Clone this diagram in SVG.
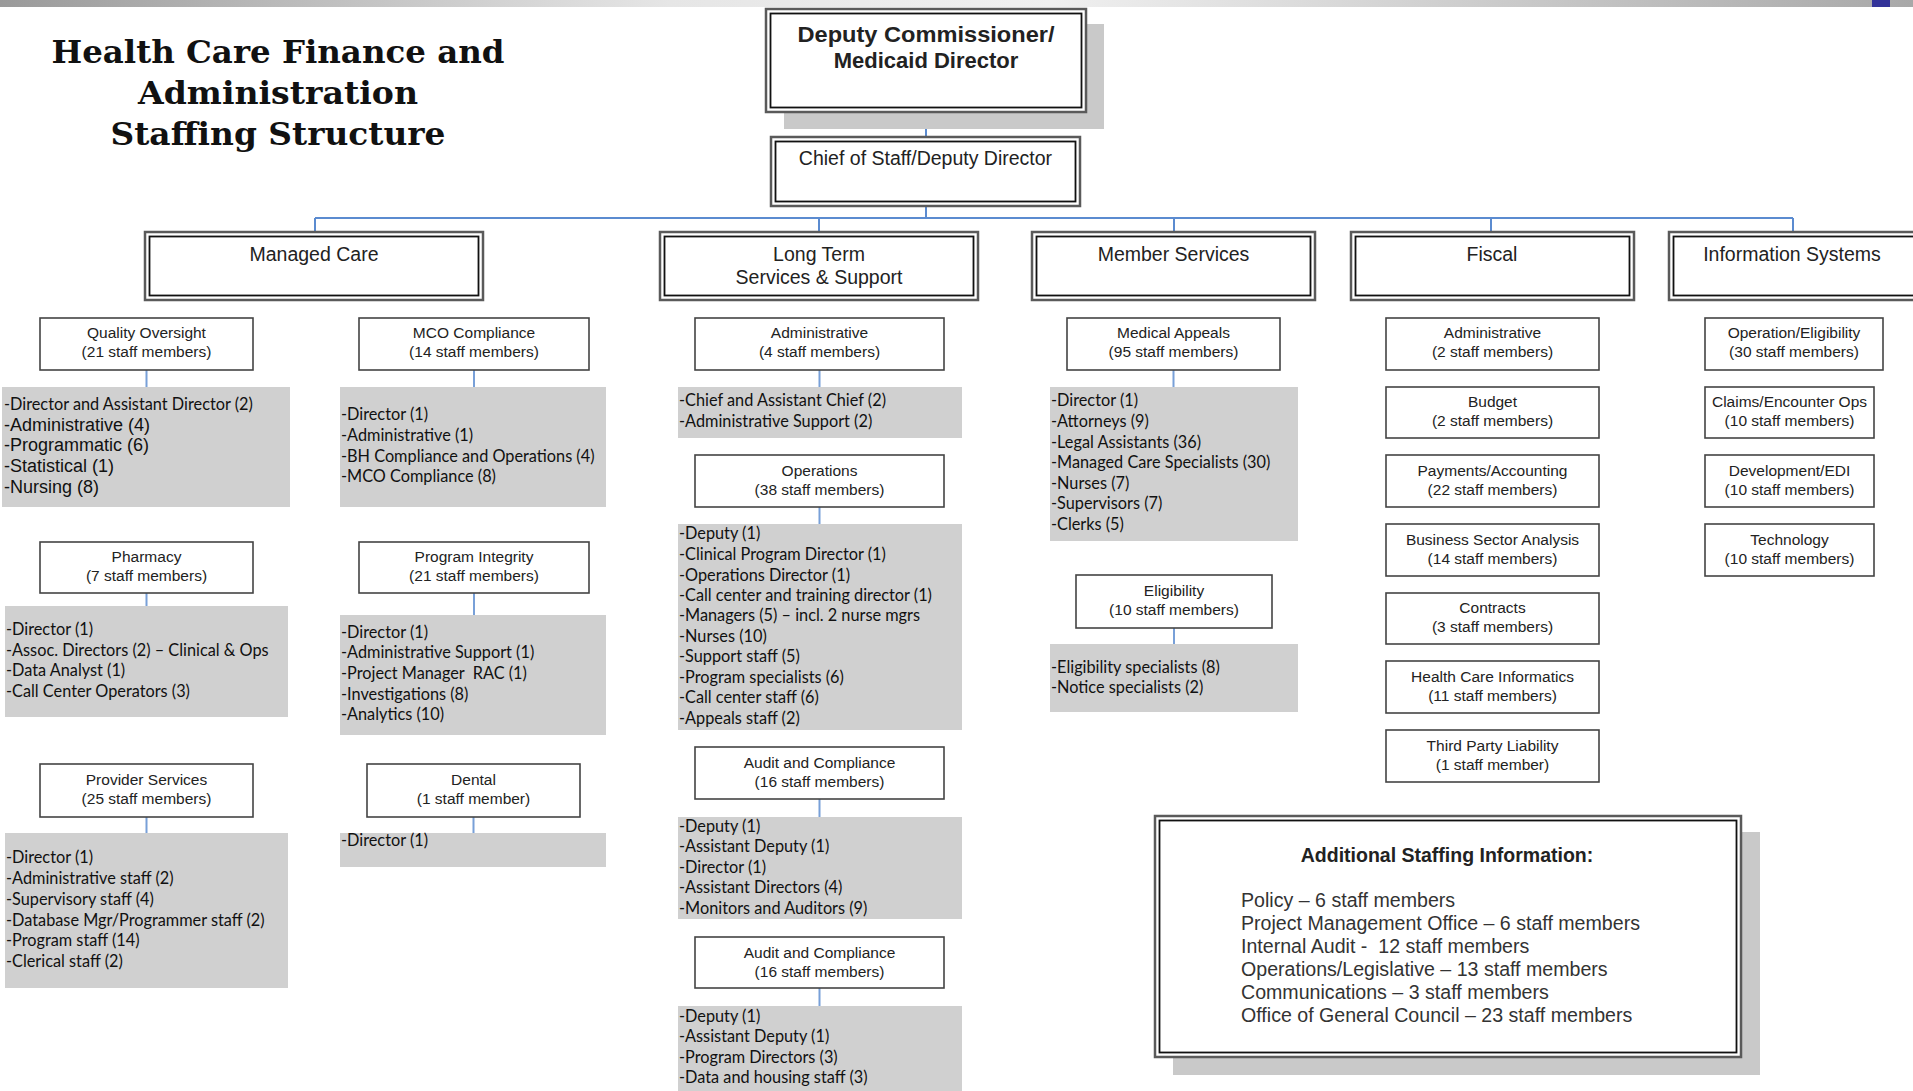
<svg xmlns="http://www.w3.org/2000/svg" width="1913" height="1091" viewBox="0 0 1913 1091">
<defs>
<linearGradient id="bar" x1="0" y1="0" x2="1" y2="0">
<stop offset="0" stop-color="#9a9a9a"/>
<stop offset="0.35" stop-color="#e6e6e6"/>
<stop offset="0.55" stop-color="#f0f0f0"/>
<stop offset="1" stop-color="#a8a8a8"/>
</linearGradient>
<style>
.l2o{fill:#fff;stroke:#5a5a5a;stroke-width:2.5}
.l2i{fill:none;stroke:#111;stroke-width:1.8}
.box{fill:#fff;stroke:#444;stroke-width:1.6}
.gray{fill:#d0d0d0}
.shadow{fill:#c9c9c9}
.conn{stroke:#78a0d8;stroke-width:2;fill:none}
.connm{stroke:#5b8bd0;stroke-width:2;fill:none}
.t{font-family:"Liberation Sans",Arial,sans-serif;fill:#222;text-anchor:middle}
.h2{font-size:19.5px}
.sub{font-size:15.5px}
.lst{font-family:Lato,"Liberation Sans",sans-serif;font-size:16.3px;fill:#111}
.lsta{font-family:"Liberation Sans",Arial,sans-serif;font-size:18px;fill:#111}
.add{font-family:"Liberation Sans",Arial,sans-serif;font-size:19.6px;fill:#333}
.title{font-family:"DejaVu Serif","Liberation Serif",serif;font-weight:bold;font-size:31px;fill:#111;text-anchor:middle}
</style>
</defs>
<rect width="1913" height="1091" fill="#fff"/>
<rect x="0" y="0" width="1913" height="7" fill="url(#bar)"/>
<rect x="1872" y="0" width="18" height="7" fill="#333399"/>

<g id="title">
<text class="title" x="278" y="63" textLength="453" lengthAdjust="spacingAndGlyphs">Health Care Finance and</text>
<text class="title" x="278" y="104" textLength="280" lengthAdjust="spacingAndGlyphs">Administration</text>
<text class="title" x="278" y="145" textLength="335" lengthAdjust="spacingAndGlyphs">Staffing Structure</text>
</g>

<g id="connectors">
<path class="connm" d="M926 112V137M926 206V218M315 218H1793M315 218V232M819 218V232M1174 218V232M1491 218V232M1793 218V232"/>
<path class="connm" d="M926 206V218" stroke-width="3"/>
<path class="conn" d="M146.5 370V387M474 370V387M146.5 593V606M474 593V615M146.5 817V833M473.5 817V833M819.5 370V387M819.5 507V524M819.5 799V817M819.5 988V1006M1173.5 370V387M1174 628V644"/>
</g>

<g id="deputy">
<rect class="shadow" x="784" y="24" width="320" height="105"/>
<rect class="l2o" x="766" y="9" width="320" height="103"/>
<rect class="l2i" x="770.5" y="13.5" width="311" height="94"/>
<text class="t" x="926" y="42" font-size="22" font-weight="bold" fill="#111" textLength="257" lengthAdjust="spacingAndGlyphs">Deputy Commissioner/</text>
<text class="t" x="926" y="68" font-size="22" font-weight="bold" fill="#111">Medicaid Director</text>
</g>

<g id="chief">
<rect class="l2o" x="771" y="137" width="309" height="69"/>
<rect class="l2i" x="775.5" y="141.5" width="300" height="60"/>
<text class="t h2" x="925.5" y="165">Chief of Staff/Deputy Director</text>
</g>

<g id="managed-care">
<rect class="l2o" x="145" y="232" width="338" height="68"/>
<rect class="l2i" x="149.5" y="236.5" width="329" height="59"/>
<text class="t h2" x="314" y="261">Managed Care</text>
</g>
<g id="ltss">
<rect class="l2o" x="660" y="232" width="318" height="68"/>
<rect class="l2i" x="664.5" y="236.5" width="309" height="59"/>
<text class="t h2" x="819" y="261">Long Term</text>
<text class="t h2" x="819" y="284">Services &amp; Support</text>
</g>
<g id="member-services">
<rect class="l2o" x="1032" y="232" width="283" height="68"/>
<rect class="l2i" x="1036.5" y="236.5" width="274" height="59"/>
<text class="t h2" x="1173.5" y="261">Member Services</text>
</g>
<g id="fiscal">
<rect class="l2o" x="1351" y="232" width="283" height="68"/>
<rect class="l2i" x="1355.5" y="236.5" width="274" height="59"/>
<text class="t h2" x="1492" y="261">Fiscal</text>
</g>
<g id="information-systems">
<rect class="l2o" x="1669" y="232" width="283" height="68"/>
<rect class="l2i" x="1673.5" y="236.5" width="274" height="59"/>
<text class="t h2" x="1792" y="261">Information Systems</text>
</g>

<g id="quality-oversight">
<rect class="box" x="40" y="318" width="213" height="52"/>
<text class="t sub" x="146.5" y="338">Quality Oversight</text>
<text class="t sub" x="146.5" y="357">(21 staff members)</text>
</g>
<g id="quality-oversight-staff">
<rect class="gray" x="2" y="387" width="288" height="120"/>
<text class="lst" x="4" y="410">-Director and Assistant Director (2)</text>
<text class="lsta" x="4" y="431">-Administrative (4)</text>
<text class="lsta" x="4" y="451">-Programmatic (6)</text>
<text class="lsta" x="4" y="472">-Statistical (1)</text>
<text class="lsta" x="4" y="493">-Nursing (8)</text>
</g>
<g id="pharmacy">
<rect class="box" x="40" y="542" width="213" height="51"/>
<text class="t sub" x="146.5" y="562">Pharmacy</text>
<text class="t sub" x="146.5" y="581">(7 staff members)</text>
</g>
<g id="pharmacy-staff">
<rect class="gray" x="5" y="606" width="283" height="111"/>
<text class="lst" x="6" y="635">-Director (1)</text>
<text class="lst" x="6" y="656">-Assoc. Directors (2) – Clinical &amp; Ops</text>
<text class="lst" x="6" y="676">-Data Analyst (1)</text>
<text class="lst" x="6" y="697">-Call Center Operators (3)</text>
</g>
<g id="provider-services">
<rect class="box" x="40" y="764" width="213" height="53"/>
<text class="t sub" x="146.5" y="785">Provider Services</text>
<text class="t sub" x="146.5" y="804">(25 staff members)</text>
</g>
<g id="provider-services-staff">
<rect class="gray" x="5" y="833" width="283" height="155"/>
<text class="lst" x="6" y="863">-Director (1)</text>
<text class="lst" x="6" y="884">-Administrative staff (2)</text>
<text class="lst" x="6" y="905">-Supervisory staff (4)</text>
<text class="lst" x="6" y="926">-Database Mgr/Programmer staff (2)</text>
<text class="lst" x="6" y="946">-Program staff (14)</text>
<text class="lst" x="6" y="967">-Clerical staff (2)</text>
</g>

<g id="mco-compliance">
<rect class="box" x="359" y="318" width="230" height="52"/>
<text class="t sub" x="474" y="338">MCO Compliance</text>
<text class="t sub" x="474" y="357">(14 staff members)</text>
</g>
<g id="mco-compliance-staff">
<rect class="gray" x="340" y="387" width="266" height="120"/>
<text class="lst" x="341" y="420">-Director (1)</text>
<text class="lst" x="341" y="441">-Administrative (1)</text>
<text class="lst" x="341" y="462">-BH Compliance and Operations (4)</text>
<text class="lst" x="341" y="482">-MCO Compliance (8)</text>
</g>
<g id="program-integrity">
<rect class="box" x="359" y="542" width="230" height="51"/>
<text class="t sub" x="474" y="562">Program Integrity</text>
<text class="t sub" x="474" y="581">(21 staff members)</text>
</g>
<g id="program-integrity-staff">
<rect class="gray" x="340" y="615" width="266" height="120"/>
<text class="lst" x="341" y="638">-Director (1)</text>
<text class="lst" x="341" y="658">-Administrative Support (1)</text>
<text class="lst" x="341" y="679" xml:space="preserve">-Project Manager  RAC (1)</text>
<text class="lst" x="341" y="700">-Investigations (8)</text>
<text class="lst" x="341" y="720">-Analytics (10)</text>
</g>
<g id="dental">
<rect class="box" x="367" y="764" width="213" height="53"/>
<text class="t sub" x="473.5" y="785">Dental</text>
<text class="t sub" x="473.5" y="804">(1 staff member)</text>
</g>
<g id="dental-staff">
<rect class="gray" x="340" y="833" width="266" height="34"/>
<text class="lst" x="341" y="846">-Director (1)</text>
</g>

<g id="ltss-administrative">
<rect class="box" x="695" y="318" width="249" height="52"/>
<text class="t sub" x="819.5" y="338">Administrative</text>
<text class="t sub" x="819.5" y="357">(4 staff members)</text>
</g>
<g id="ltss-administrative-staff">
<rect class="gray" x="678" y="387" width="284" height="51"/>
<text class="lst" x="679" y="406">-Chief and Assistant Chief (2)</text>
<text class="lst" x="679" y="427">-Administrative Support (2)</text>
</g>
<g id="operations">
<rect class="box" x="695" y="455" width="249" height="52"/>
<text class="t sub" x="819.5" y="476">Operations</text>
<text class="t sub" x="819.5" y="495">(38 staff members)</text>
</g>
<g id="operations-staff">
<rect class="gray" x="678" y="524" width="284" height="206"/>
<text class="lst" x="679" y="539">-Deputy (1)</text>
<text class="lst" x="679" y="560">-Clinical Program Director (1)</text>
<text class="lst" x="679" y="581">-Operations Director (1)</text>
<text class="lst" x="679" y="601">-Call center and training director (1)</text>
<text class="lst" x="679" y="621">-Managers (5) – incl. 2 nurse mgrs</text>
<text class="lst" x="679" y="642">-Nurses (10)</text>
<text class="lst" x="679" y="662">-Support staff (5)</text>
<text class="lst" x="679" y="683">-Program specialists (6)</text>
<text class="lst" x="679" y="703">-Call center staff (6)</text>
<text class="lst" x="679" y="724">-Appeals staff (2)</text>
</g>
<g id="audit-compliance-1">
<rect class="box" x="695" y="747" width="249" height="52"/>
<text class="t sub" x="819.5" y="768">Audit and Compliance</text>
<text class="t sub" x="819.5" y="787">(16 staff members)</text>
</g>
<g id="audit-compliance-1-staff">
<rect class="gray" x="678" y="817" width="284" height="102"/>
<text class="lst" x="679" y="832">-Deputy (1)</text>
<text class="lst" x="679" y="852">-Assistant Deputy (1)</text>
<text class="lst" x="679" y="873">-Director (1)</text>
<text class="lst" x="679" y="893">-Assistant Directors (4)</text>
<text class="lst" x="679" y="914">-Monitors and Auditors (9)</text>
</g>
<g id="audit-compliance-2">
<rect class="box" x="695" y="937" width="249" height="51"/>
<text class="t sub" x="819.5" y="958">Audit and Compliance</text>
<text class="t sub" x="819.5" y="977">(16 staff members)</text>
</g>
<g id="audit-compliance-2-staff">
<rect class="gray" x="678" y="1006" width="284" height="90"/>
<text class="lst" x="679" y="1022">-Deputy (1)</text>
<text class="lst" x="679" y="1042">-Assistant Deputy (1)</text>
<text class="lst" x="679" y="1063">-Program Directors (3)</text>
<text class="lst" x="679" y="1083">-Data and housing staff (3)</text>
</g>

<g id="medical-appeals">
<rect class="box" x="1067" y="318" width="213" height="52"/>
<text class="t sub" x="1173.5" y="338">Medical Appeals</text>
<text class="t sub" x="1173.5" y="357">(95 staff members)</text>
</g>
<g id="medical-appeals-staff">
<rect class="gray" x="1050" y="387" width="248" height="154"/>
<text class="lst" x="1051" y="406">-Director (1)</text>
<text class="lst" x="1051" y="427">-Attorneys (9)</text>
<text class="lst" x="1051" y="448">-Legal Assistants (36)</text>
<text class="lst" x="1051" y="468">-Managed Care Specialists (30)</text>
<text class="lst" x="1051" y="489">-Nurses (7)</text>
<text class="lst" x="1051" y="509">-Supervisors (7)</text>
<text class="lst" x="1051" y="530">-Clerks (5)</text>
</g>
<g id="eligibility">
<rect class="box" x="1076" y="575" width="196" height="53"/>
<text class="t sub" x="1174" y="596">Eligibility</text>
<text class="t sub" x="1174" y="615">(10 staff members)</text>
</g>
<g id="eligibility-staff">
<rect class="gray" x="1050" y="644" width="248" height="68"/>
<text class="lst" x="1051" y="673">-Eligibility specialists (8)</text>
<text class="lst" x="1051" y="693">-Notice specialists (2)</text>
</g>

<g id="fiscal-administrative">
<rect class="box" x="1386" y="318" width="213" height="52"/>
<text class="t sub" x="1492.5" y="338">Administrative</text>
<text class="t sub" x="1492.5" y="357">(2 staff members)</text>
</g>
<g id="budget">
<rect class="box" x="1386" y="387" width="213" height="51"/>
<text class="t sub" x="1492.5" y="407">Budget</text>
<text class="t sub" x="1492.5" y="426">(2 staff members)</text>
</g>
<g id="payments-accounting">
<rect class="box" x="1386" y="455" width="213" height="52"/>
<text class="t sub" x="1492.5" y="476">Payments/Accounting</text>
<text class="t sub" x="1492.5" y="495">(22 staff members)</text>
</g>
<g id="business-sector-analysis">
<rect class="box" x="1386" y="524" width="213" height="52"/>
<text class="t sub" x="1492.5" y="545">Business Sector Analysis</text>
<text class="t sub" x="1492.5" y="564">(14 staff members)</text>
</g>
<g id="contracts">
<rect class="box" x="1386" y="593" width="213" height="51"/>
<text class="t sub" x="1492.5" y="613">Contracts</text>
<text class="t sub" x="1492.5" y="632">(3 staff members)</text>
</g>
<g id="health-care-informatics">
<rect class="box" x="1386" y="661" width="213" height="52"/>
<text class="t sub" x="1492.5" y="682">Health Care Informatics</text>
<text class="t sub" x="1492.5" y="701">(11 staff members)</text>
</g>
<g id="third-party-liability">
<rect class="box" x="1386" y="730" width="213" height="52"/>
<text class="t sub" x="1492.5" y="751">Third Party Liability</text>
<text class="t sub" x="1492.5" y="770">(1 staff member)</text>
</g>

<g id="operation-eligibility">
<rect class="box" x="1705" y="318" width="178" height="52"/>
<text class="t sub" x="1794" y="338">Operation/Eligibility</text>
<text class="t sub" x="1794" y="357">(30 staff members)</text>
</g>
<g id="claims-encounter-ops">
<rect class="box" x="1705" y="387" width="169" height="51"/>
<text class="t sub" x="1789.5" y="407">Claims/Encounter Ops</text>
<text class="t sub" x="1789.5" y="426">(10 staff members)</text>
</g>
<g id="development-edi">
<rect class="box" x="1705" y="455" width="169" height="52"/>
<text class="t sub" x="1789.5" y="476">Development/EDI</text>
<text class="t sub" x="1789.5" y="495">(10 staff members)</text>
</g>
<g id="technology">
<rect class="box" x="1705" y="524" width="169" height="52"/>
<text class="t sub" x="1789.5" y="545">Technology</text>
<text class="t sub" x="1789.5" y="564">(10 staff members)</text>
</g>

<g id="additional-staffing">
<rect class="shadow" x="1173" y="832" width="587" height="243"/>
<rect class="l2o" x="1155" y="816" width="586" height="241"/>
<rect class="l2i" x="1159.5" y="820.5" width="577" height="232"/>
<text class="t" x="1447" y="862" font-size="19.5" font-weight="bold" fill="#111">Additional Staffing Information:</text>
<text class="add" x="1241" y="907">Policy – 6 staff members</text>
<text class="add" x="1241" y="930">Project Management Office – 6 staff members</text>
<text class="add" x="1241" y="953" xml:space="preserve">Internal Audit -  12 staff members</text>
<text class="add" x="1241" y="976">Operations/Legislative – 13 staff members</text>
<text class="add" x="1241" y="999">Communications – 3 staff members</text>
<text class="add" x="1241" y="1022">Office of General Council – 23 staff members</text>
</g>
</svg>
